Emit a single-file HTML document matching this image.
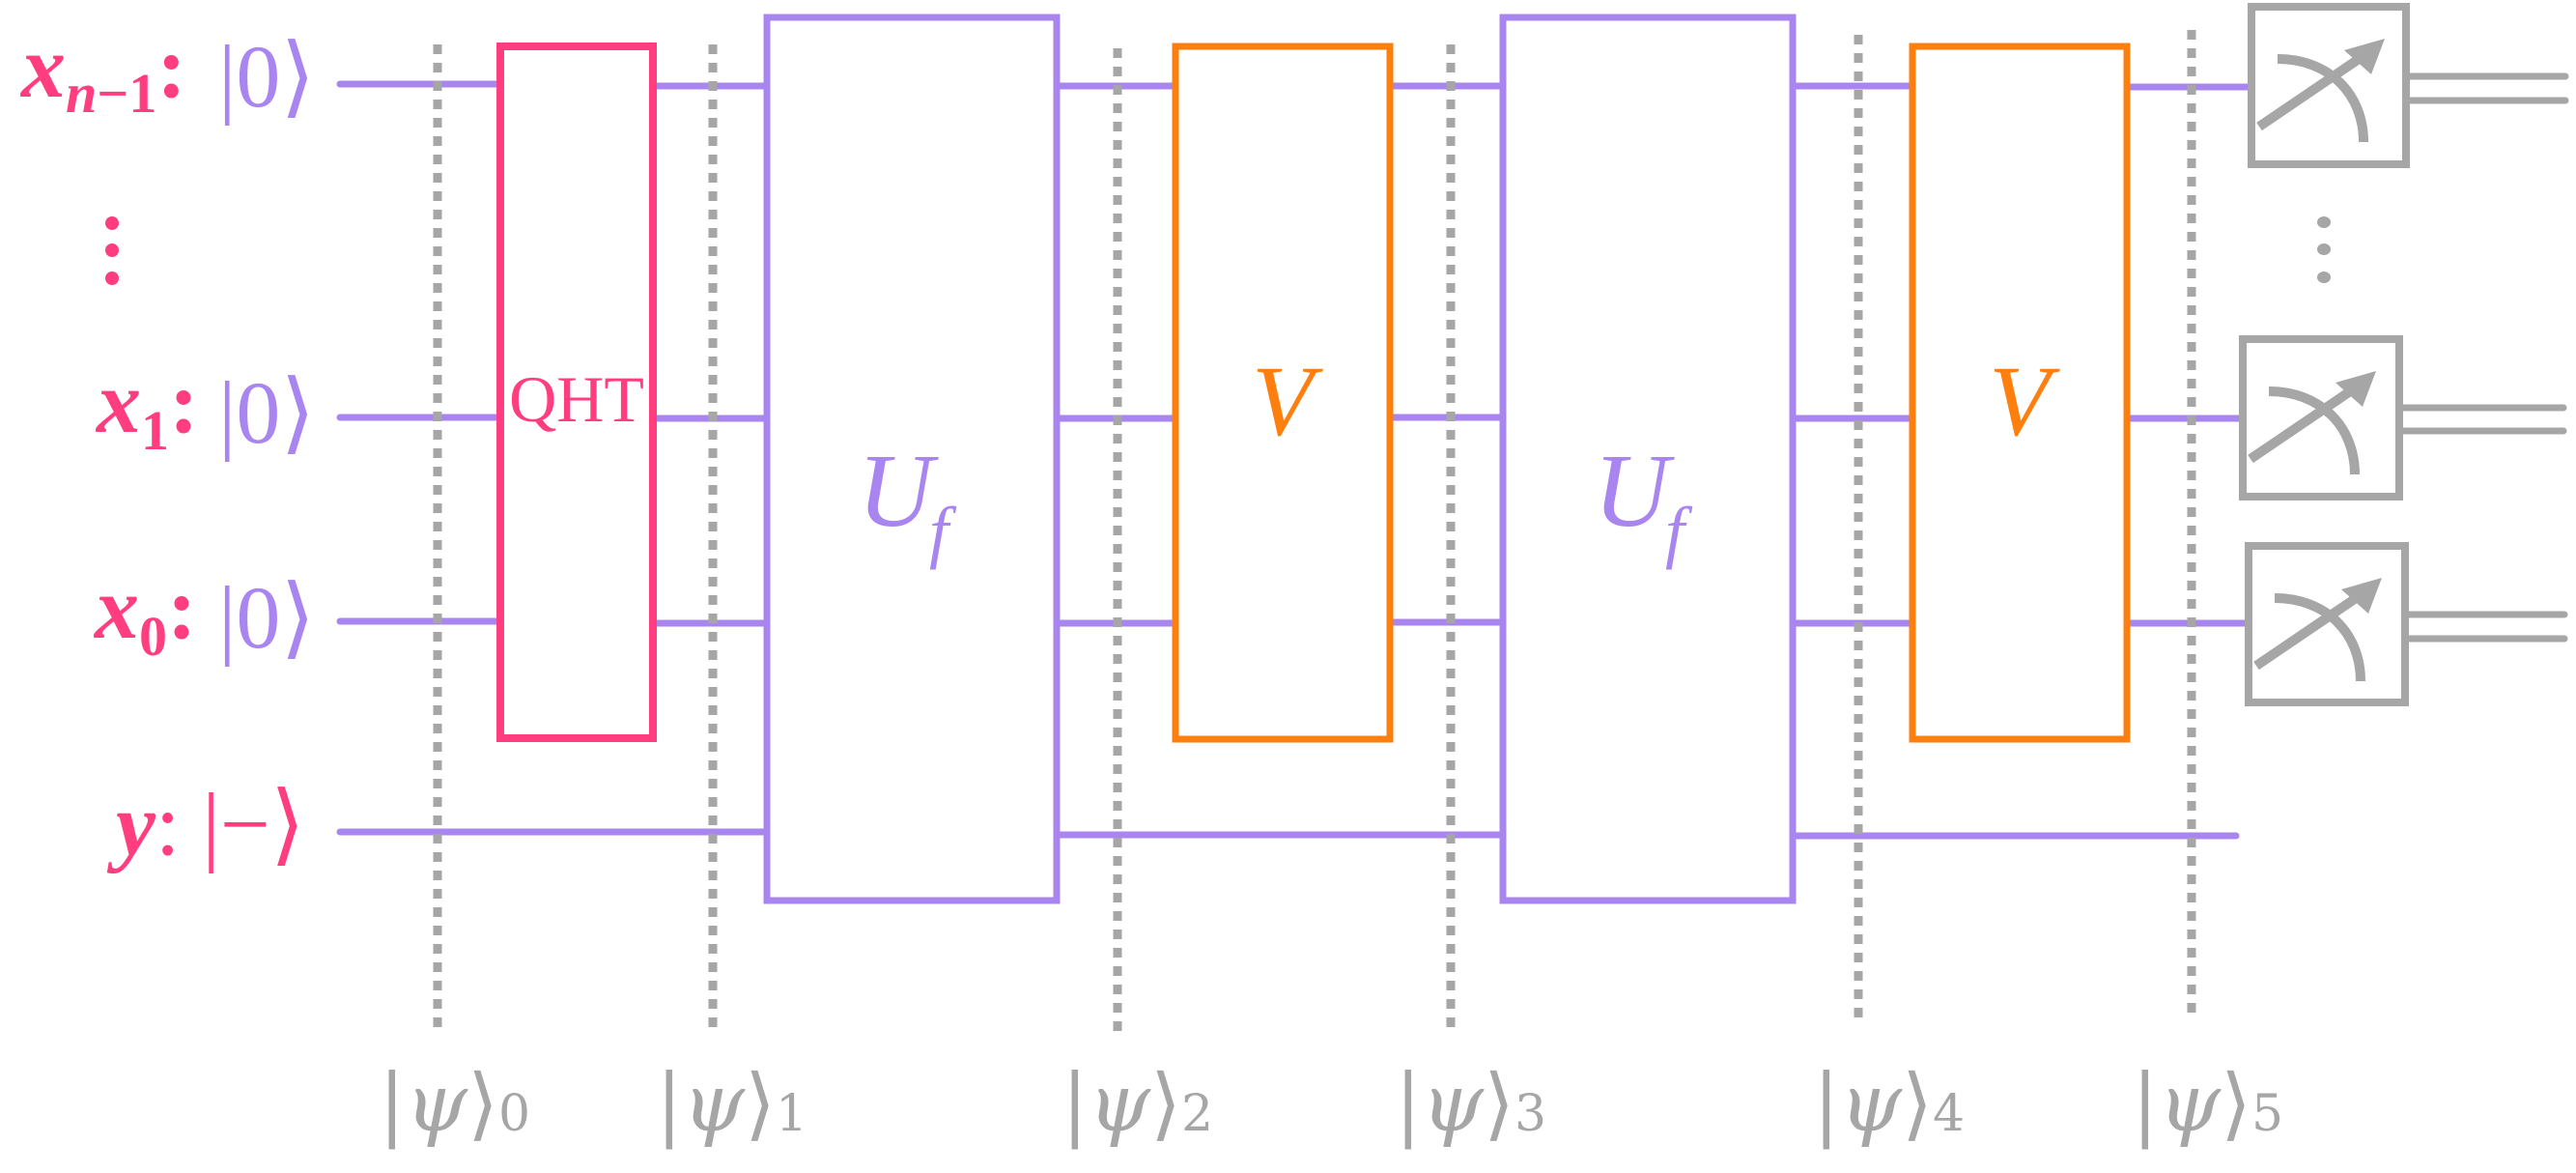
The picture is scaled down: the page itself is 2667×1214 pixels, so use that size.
<!DOCTYPE html>
<html><head><meta charset="utf-8"><style>
html,body{margin:0;padding:0;background:#fff;}
svg{display:block;}
</style></head><body>
<svg width="2667" height="1214" viewBox="0 0 2667 1214" xmlns="http://www.w3.org/2000/svg">
<defs>
<g id="meter">
<path d="M27,54 C80,54 116,90 116,140" fill="none" stroke="#a6a6a6" stroke-width="10"/>
<line x1="8" y1="124" x2="120" y2="48" stroke="#a6a6a6" stroke-width="10"/>
<polygon points="138,33 96,45 124,70" fill="#a6a6a6"/>
</g>
</defs>
<g stroke="#a985f0" stroke-width="7" fill="none" stroke-linecap="round">
<line x1="352" y1="87" x2="514" y2="87"/>
<line x1="352" y1="432" x2="514" y2="432"/>
<line x1="352" y1="643" x2="514" y2="643"/>
<line x1="352" y1="861" x2="791" y2="861"/>
<line x1="679" y1="89" x2="791" y2="89"/>
<line x1="679" y1="433" x2="791" y2="433"/>
<line x1="679" y1="645" x2="791" y2="645"/>
<line x1="1097" y1="89" x2="1214" y2="89"/>
<line x1="1097" y1="433" x2="1214" y2="433"/>
<line x1="1097" y1="645" x2="1214" y2="645"/>
<line x1="1097" y1="864" x2="1553" y2="864"/>
<line x1="1442" y1="89" x2="1553" y2="89"/>
<line x1="1442" y1="432" x2="1553" y2="432"/>
<line x1="1442" y1="644" x2="1553" y2="644"/>
<line x1="1856" y1="89" x2="1977" y2="89"/>
<line x1="1856" y1="433" x2="1977" y2="433"/>
<line x1="1856" y1="645" x2="1977" y2="645"/>
<line x1="1856" y1="865" x2="2315" y2="865"/>
<line x1="2205" y1="90" x2="2327" y2="90"/>
<line x1="2205" y1="433" x2="2318" y2="433"/>
<line x1="2205" y1="645" x2="2324" y2="645"/>
</g>
<g stroke="#a6a6a6" stroke-width="9" stroke-dasharray="10,9">
<line x1="453" y1="46" x2="453" y2="1065"/>
<line x1="738" y1="46" x2="738" y2="1065"/>
<line x1="1157" y1="50" x2="1157" y2="1072"/>
<line x1="1502" y1="46" x2="1502" y2="1068"/>
<line x1="1924" y1="36" x2="1924" y2="1060"/>
<line x1="2269" y1="31" x2="2269" y2="1053"/>
</g>
<rect x="518" y="48" width="158" height="716" fill="#fff" stroke="#ff3d7f" stroke-width="8"/>
<rect x="794" y="18" width="300" height="914" fill="#fff" stroke="#a985f0" stroke-width="7"/>
<rect x="1217" y="48" width="222" height="717" fill="#fff" stroke="#ff7f0e" stroke-width="7"/>
<rect x="1556" y="18" width="300" height="914" fill="#fff" stroke="#a985f0" stroke-width="7"/>
<rect x="1980" y="48" width="222" height="717" fill="#fff" stroke="#ff7f0e" stroke-width="7"/>
<text x="597" y="436" text-anchor="middle" font-family="Liberation Serif, serif" font-size="68" fill="#ff3d7f">QHT</text>
<text x="888" y="544" font-family="Liberation Serif, serif" font-style="italic" font-size="108" fill="#a985f0">U</text>
<text x="962" y="574" font-family="Liberation Serif, serif" font-style="italic" font-size="72" fill="#a985f0">f</text>
<text x="1650" y="544" font-family="Liberation Serif, serif" font-style="italic" font-size="108" fill="#a985f0">U</text>
<text x="1724" y="574" font-family="Liberation Serif, serif" font-style="italic" font-size="72" fill="#a985f0">f</text>
<text x="1328" y="450" text-anchor="middle" font-family="Liberation Serif, serif" font-style="italic" font-size="104" fill="#ff7f0e">V</text>
<text x="2091" y="450" text-anchor="middle" font-family="Liberation Serif, serif" font-style="italic" font-size="104" fill="#ff7f0e">V</text>
<g fill="#fff" stroke="#a6a6a6" stroke-width="8">
<rect x="2331" y="7" width="160" height="163"/>
<rect x="2322" y="351" width="162" height="163"/>
<rect x="2328" y="565" width="162" height="162"/>
</g>
<use href="#meter" x="2331" y="7"/>
<use href="#meter" x="2322" y="351"/>
<use href="#meter" x="2328" y="565"/>
<g stroke="#a6a6a6" stroke-width="7" stroke-linecap="round">
<line x1="2495" y1="79" x2="2656" y2="79"/>
<line x1="2495" y1="104" x2="2656" y2="104"/>
<line x1="2488" y1="422" x2="2654" y2="422"/>
<line x1="2488" y1="446" x2="2654" y2="446"/>
<line x1="2494" y1="636" x2="2655" y2="636"/>
<line x1="2494" y1="661" x2="2655" y2="661"/>
</g>
<g fill="#a6a6a6">
<ellipse cx="2406" cy="230" rx="7" ry="6"/>
<ellipse cx="2406" cy="258" rx="7" ry="6"/>
<ellipse cx="2406" cy="287" rx="7" ry="6"/>
</g>
<g fill="#ff3d7f">
<circle cx="116" cy="231" r="7"/>
<circle cx="116" cy="259" r="7"/>
<circle cx="116" cy="288" r="7"/>
</g>
<g font-family="Liberation Serif, DejaVu Serif, serif" font-size="92">
<text x="22" y="100" fill="#ff3d7f" font-weight="bold"><tspan font-style="italic">x</tspan><tspan font-size="58" dy="16" font-style="italic">n</tspan><tspan font-size="58">−1</tspan><tspan dy="-16">:</tspan></text>
<text x="226" y="110" fill="#a985f0">|0⟩</text>
<text x="100" y="447" fill="#ff3d7f" font-weight="bold"><tspan font-style="italic">x</tspan><tspan font-size="58" dy="18">1</tspan><tspan dy="-18">:</tspan></text>
<text x="226" y="458" fill="#a985f0">|0⟩</text>
<text x="98" y="660" fill="#ff3d7f" font-weight="bold"><tspan font-style="italic">x</tspan><tspan font-size="58" dy="18">0</tspan><tspan dy="-18">:</tspan></text>
<text x="226" y="670" fill="#a985f0">|0⟩</text>
<text x="120" y="884" fill="#ff3d7f"><tspan font-style="italic" font-weight="bold">y</tspan>: |−⟩</text>
</g>
<g font-family="DejaVu Serif, Liberation Serif, serif" font-size="82" fill="#a6a6a6">
<text x="392" y="1170">|<tspan font-style="italic">ψ</tspan>⟩<tspan font-size="52">0</tspan></text>
<text x="679" y="1170">|<tspan font-style="italic">ψ</tspan>⟩<tspan font-size="52">1</tspan></text>
<text x="1099" y="1170">|<tspan font-style="italic">ψ</tspan>⟩<tspan font-size="52">2</tspan></text>
<text x="1444" y="1170">|<tspan font-style="italic">ψ</tspan>⟩<tspan font-size="52">3</tspan></text>
<text x="1877" y="1170">|<tspan font-style="italic">ψ</tspan>⟩<tspan font-size="52">4</tspan></text>
<text x="2207" y="1170">|<tspan font-style="italic">ψ</tspan>⟩<tspan font-size="52">5</tspan></text>
</g>
</svg>
</body></html>
